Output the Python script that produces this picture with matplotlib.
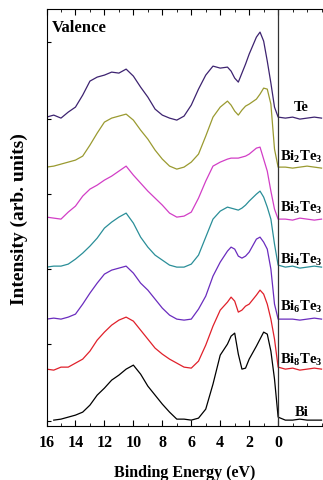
import numpy as np
import matplotlib
matplotlib.use('Agg')
import matplotlib.pyplot as plt
from matplotlib.ticker import MultipleLocator

plt.rcParams['font.family'] = ['Liberation Serif', 'DejaVu Serif']
plt.rcParams['font.weight'] = 'bold'
plt.rcParams['mathtext.fontset'] = 'custom'
plt.rcParams['mathtext.rm'] = 'Liberation Serif:bold'
plt.rcParams['mathtext.bf'] = 'Liberation Serif:bold'
plt.rcParams['mathtext.default'] = 'rm'

# binding energy grid (eV)
energy = [16, 15.5, 15, 14.5, 14, 13.5, 13, 12.5, 12, 11.5, 11, 10.5, 10, 9.5, 9,
          8.5, 8, 7.5, 7, 6.5, 6, 5.5, 5, 4.5, 4, 3.5, 3.25, 3, 2.75, 2.5, 2.25, 2, 1.5,
          1.25, 1.0, 0.75, 0.5, 0.25, 0,
          -0.5, -1, -1.5, -2, -2.5, -3]

# intensities (arb. units, already stacked)
te = [309, 311, 308, 314, 319, 331, 345, 349, 351, 354, 353, 357, 350, 339, 329,
      317, 311, 308, 306, 310, 321, 337, 351, 360, 358, 359, 355, 348, 344, 353, 362, 372, 389,
      394, 385, 365, 343, 319, 309,
      308, 309, 307, 308, 309, 308]
bi2te3 = [259, 260, 262, 264, 266, 270, 281, 293, 304, 308, 310, 312, 306, 296, 287,
          276, 267, 260, 257, 259, 264, 272, 290, 309, 319, 325, 321, 315, 311, 316, 320, 322, 327,
          332, 338, 337, 322, 277, 259,
          259, 258, 259, 260, 259, 258]
bi3te3 = [209, 208, 207, 214, 220, 230, 237, 241, 246, 250, 255, 260, 251, 243, 235,
          228, 221, 213, 209, 210, 214, 228, 245, 260, 264, 267, 268, 268, 268, 269, 270, 272, 278,
          279, 267, 255, 235, 217, 207,
          207, 206, 208, 207, 206, 207]
bi4te3 = [159, 160, 160, 162, 167, 173, 180, 188, 198, 204, 209, 213, 203, 189, 179,
          171, 166, 161, 159, 159, 162, 171, 189, 207, 215, 219, 218, 217, 216, 218, 221, 225, 232,
          235, 229, 219, 207, 182, 161,
          159, 160, 158, 159, 160, 159]
bi6te3 = [107, 108, 107, 109, 112, 122, 133, 143, 152, 156, 158, 160, 153, 143, 136,
          127, 118, 111, 107, 106, 107, 117, 130, 150, 164, 175, 179, 177, 170, 168, 170, 174, 187,
          189, 184, 177, 157, 122, 107,
          107, 107, 106, 107, 108, 107]
bi8te3 = [57, 56, 59, 59, 63, 67, 75, 86, 94, 101, 106, 109, 105, 96, 87,
          78, 72, 67, 63, 59, 58, 65, 81, 100, 116, 124, 129, 125, 114, 116, 120, 122, 131,
          136, 132, 122, 107, 87, 59,
          57, 58, 56, 57, 58, 57]
bi = [np.nan, 6, 7, 9, 11, 14, 21, 31, 38, 46, 51, 57, 61, 52, 40,
      31, 22, 14, 7, 7, 6, 8, 17, 42, 71, 82, 90, 93, 72, 57, 58, 67, 80,
      87, 94, 92, 75, 47, 9,
      6, 6, 7, 6, 6, 6]

series = [te, bi2te3, bi3te3, bi4te3, bi6te3, bi8te3, bi]
names = ['Te', 'Bi$_2$Te$_3$', 'Bi$_3$Te$_3$', 'Bi$_4$Te$_3$',
         'Bi$_6$Te$_3$', 'Bi$_8$Te$_3$', 'Bi']
colors = ['#3d2370', '#9a9a30', '#d23ec6', '#2a8e98', '#6a2cbe', '#e0202a', '#000000']
label_y = [320, 270, 219, 167, 120, 67, 15]

fig = plt.figure(figsize=(3.23, 4.81), dpi=100)
ax = fig.add_axes([0.144, 0.112, 0.856, 0.867])

for y, c in zip(series, colors):
    ax.plot(energy, y, color=c, lw=0.9)

for name, ly in zip(names, label_y):
    ax.text(-1.6, ly, name, ha='center', va='center', fontsize=10.5, fontweight='bold')

ax.axvline(0, color='#333333', lw=0.9)
ax.text(15.6, 399, 'Valence', fontsize=12, fontweight='bold', va='center')

ax.set_xlim(16, -3.1)
ax.set_ylim(0, 417)
ax.set_xticks([16, 14, 12, 10, 8, 6, 4, 2, 0])
ax.xaxis.set_minor_locator(MultipleLocator(1))
ax.set_yticks([5, 82, 157, 232, 307, 384])
ax.set_yticklabels([])
ax.tick_params(axis='x', which='both', direction='in', top=True, labelsize=11.5, pad=6)
ax.tick_params(axis='x', which='major', length=4)
ax.tick_params(axis='x', which='minor', length=2.5)
ax.tick_params(axis='y', direction='in', length=3)
for lab in ax.get_xticklabels():
    lab.set_fontweight('bold')
ax.spines['right'].set_visible(False)

ax.set_xlabel('Binding Energy (eV)', fontsize=11.5, fontweight='bold', labelpad=10)
ax.set_ylabel('Intensity (arb. units)', fontsize=14, fontweight='bold', labelpad=10)

fig.savefig('out.png', dpi=100)
